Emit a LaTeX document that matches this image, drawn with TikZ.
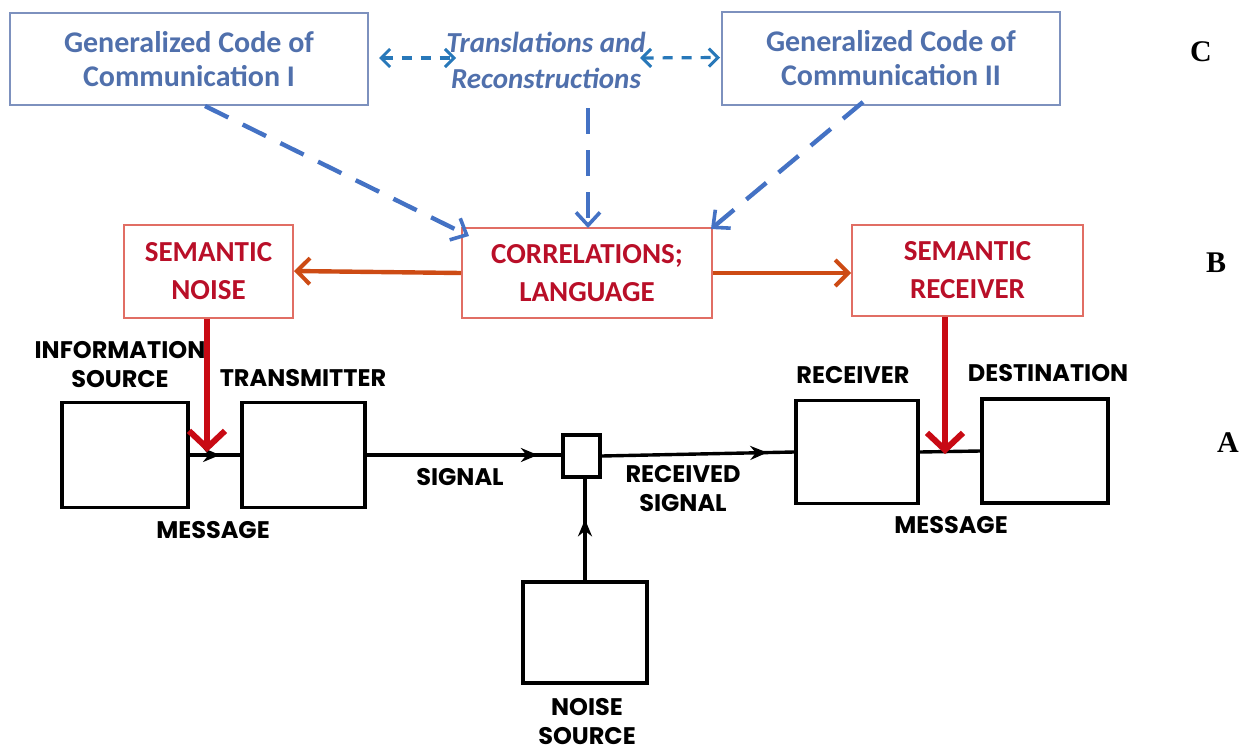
\documentclass[tikz,border=0pt]{standalone}
\usepackage{fontspec}
\setmainfont{Carlito}
\newfontfamily\labfont{Poppins}
\newfontfamily\timesfont{Liberation Serif}
\usetikzlibrary{arrows.meta,calc,decorations.markings}
\definecolor{bluetext}{RGB}{80,112,172}
\definecolor{blueborder}{RGB}{125,145,190}
\definecolor{bluedash}{RGB}{68,114,196}
\definecolor{bluesmall}{RGB}{40,120,185}
\definecolor{redtext}{RGB}{185,15,40}
\definecolor{redborder}{RGB}{225,110,100}
\definecolor{orangearrow}{RGB}{205,75,20}
\definecolor{redarrow}{RGB}{200,10,20}
\tikzset{
  codebox/.style={draw=blueborder,line width=2pt,align=center,text=bluetext,
    font=\fontsize{30}{34}\selectfont\bfseries,inner sep=0pt},
  sembox/.style={draw=redborder,line width=2pt,align=center,text=redtext,
    font=\fontsize{29}{38}\selectfont\bfseries,inner sep=0pt},
  blkbox/.style={draw=black,line width=3.6pt,inner sep=0pt},
  lab/.style={font=\labfont\fontsize{24}{29}\selectfont\bfseries,align=center,inner sep=0pt},
  letter/.style={font=\timesfont\fontsize{30}{30}\selectfont\bfseries,inner sep=0pt},
  bigdash/.style={draw=bluedash,line width=4.4pt,dash pattern=on 26pt off 16pt,
    -{Straight Barb[length=13pt,width=24pt,line width=3.6pt]}},
  smalldash/.style={draw=bluesmall,line width=3.2pt,dash pattern=on 10pt off 9pt,
    {Straight Barb[length=9pt,width=18pt,line width=3pt]}-{Straight Barb[length=9pt,width=18pt,line width=3pt]}},
  orarrow/.style={draw=orangearrow,line width=4.4pt,-{Straight Barb[length=13pt,width=26pt,line width=4pt]}},
  redarr/.style={draw=redarrow,line width=6pt,-{Straight Barb[length=17pt,width=36pt,line width=6pt]}},
  blkline/.style={draw=black,line width=3.4pt},
  midarrow/.style={postaction={decorate},decoration={markings,
    mark=at position #1 with {\arrow{Stealth[length=17pt,width=14pt]}}}}
}
\begin{document}
\begin{tikzpicture}[x=1pt,y=-1pt]
\useasboundingbox (0,0) rectangle (1251,755);
% level C
\node[codebox,minimum width=358pt,minimum height=92pt] (gc1) at (189,59) {Generalized Code of\\Communication I};
\node[align=center,text=bluetext,inner sep=0pt,font=\fontsize{29}{36}\selectfont\bfseries\itshape] (tr) at (546,60) {Translations and\\Reconstructions};
\node[codebox,minimum width=338pt,minimum height=93pt] (gc2) at (891,58.5) {Generalized Code of\\Communication II};
\node[letter] (lC) at (1201,52) {C};
% level B
\node[sembox,minimum width=250pt,minimum height=90pt] (corr) at (587,273) {CORRELATIONS;\\LANGUAGE};
\node[sembox,minimum width=169pt,minimum height=93pt] (sn) at (208.5,271) {SEMANTIC\\NOISE};
\node[sembox,minimum width=231pt,minimum height=91pt] (sr) at (967.5,270) {SEMANTIC\\RECEIVER};
\node[letter] (lB) at (1216,263) {B};
% level A
\node[blkbox,minimum width=126pt,minimum height=105pt] (is) at (125,455) {};
\node[blkbox,minimum width=123pt,minimum height=105pt] (tx) at (303.5,455) {};
\node[blkbox,minimum width=37pt,minimum height=42pt] (nb) at (581.5,456) {};
\node[blkbox,minimum width=122pt,minimum height=103pt] (rc) at (857,452) {};
\node[blkbox,minimum width=126pt,minimum height=104pt] (ds) at (1045,451) {};
\node[blkbox,minimum width=124pt,minimum height=101pt] (ns) at (585,632.5) {};
\node[letter] (lA) at (1228,443) {A};
% labels
\node[lab] (lis) at (120,365) {INFORMATION\\SOURCE};
\node[lab] (ltx) at (303,378) {TRANSMITTER};
\node[lab] (lm1) at (213,530) {MESSAGE};
\node[lab] (lsig) at (460,477) {SIGNAL};
\node[lab] (lrs) at (683,489) {RECEIVED\\SIGNAL};
\node[lab] (lrc) at (853,375) {RECEIVER};
\node[lab] (lds) at (1048,373) {DESTINATION};
\node[lab] (lm2) at (951,525) {MESSAGE};
\node[lab] (lns) at (587,722) {NOISE\\SOURCE};
% black connectors
\draw[blkline,midarrow=0.6] (is.east) -- (tx.west);
\draw[blkline,midarrow=0.88] (tx.east) -- (tx.east -| nb.west);
\draw[blkline,midarrow=0.86] (nb.east) -- (rc.west);
\draw[blkline] (rc.east) -- (ds.west);
\draw[blkline,midarrow=0.6] (ns.north) -- (ns.north |- nb.south);
% blue dashed
\draw[smalldash] ([xshift=10pt,yshift=1pt]gc1.east) -- ([xshift=-90pt,yshift=2pt]tr.east -| tr.center) coordinate (d1);
\draw[smalldash] ([xshift=94pt,yshift=2pt]tr.center) coordinate (d2) -- ([xshift=-1pt,yshift=1pt]gc2.west);
\draw[bigdash] ([xshift=16pt]gc1.south) -- ([xshift=8pt,yshift=-9pt]corr.north west);
\draw[bigdash] ([xshift=1pt,yshift=-2pt]corr.north |- gc1.south) -- ([xshift=1pt,yshift=-1pt]corr.north);
\draw[bigdash] ([xshift=-28pt,yshift=4pt]gc2.south) -- ([xshift=-2pt,yshift=-2pt]corr.north east);
% orange
\draw[orarrow] (corr.west) -- (sn.east);
\draw[orarrow] (corr.east) -- (corr.east -| sr.west);
% red vertical
\coordinate (m1) at (207,452);
\coordinate (m2) at (945,454);
\draw[redarr] (sn.south -| m1) -- (m1);
\draw[redarr] (sr.south -| m2) -- (m2);
\end{tikzpicture}
\end{document}
